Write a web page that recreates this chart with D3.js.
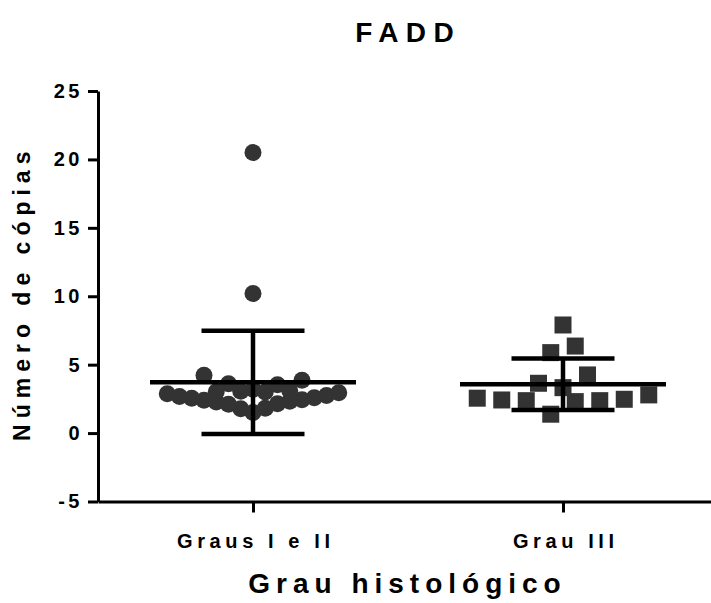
<!DOCTYPE html>
<html>
<head>
<meta charset="utf-8">
<script src="https://cdn.jsdelivr.net/npm/d3@7"></script>
<style>
  body { margin: 0; background: #fff; }
  svg { display: block; font-family: "Liberation Sans", Arial, sans-serif; font-weight: bold; }
</style>
</head>
<body>
<div id="chart"></div>
<script>
// data (column order as entered)
const groups = ['Graus I e II', 'Grau III'];
const grausIeII = [1.5, 1.78, 1.82, 2.1, 2.14, 2.28, 2.32, 2.4, 2.44, 2.54, 2.58, 2.68, 2.74, 2.88, 2.95,
  3.2, 3.06, 3.0, 3.6, 3.54, 3.02, 3.1, 4.22, 3.86, 10.2, 20.5];
const grauIII = [1.38, 2.3, 2.37, 2.37, 2.42, 2.47, 2.55, 2.79, 3.32, 3.64, 4.25, 5.88, 6.36, 7.9];
const yTicks = [-5, 0, 5, 10, 15, 20, 25];
const title = 'FADD';
const xTitle = 'Grau histológico';
const yTitle = 'Número de cópias';

const width = 711, height = 603;
const margin = {top: 91, right: -7, bottom: 101.5, left: 98};
const dark = '#333333';

const svg = d3.select('#chart').append('svg')
  .attr('width', width)
  .attr('height', height);

const x = d3.scalePoint()
  .domain(groups)
  .range([margin.left, width - margin.right])
  .padding(0.5);

const y = d3.scaleLinear()
  .domain([-5, 25])
  .range([height - margin.bottom, margin.top]);

// prism-like scatter layout: rows of one symbol height, points spread sideways
const spacing = 24.5, maxRow = 185, rowEdge = 2.97;
function swarm(values) {
  const binH = y.invert(0) - y.invert(spacing);
  const rows = d3.group(values, v => Math.floor((v - rowEdge) / binH));
  const out = [];
  for (const row of rows.values()) {
    const n = row.length;
    let s = spacing;
    while ((n - 1) * s > maxRow) s /= 2;
    row.forEach((v, i) => {
      const k = n % 2
        ? Math.ceil(i / 2) * (i % 2 ? -1 : 1)
        : (Math.floor(i / 2) + 0.5) * (i % 2 ? 1 : -1);
      out.push({v: v, dx: k * s});
    });
  }
  return out;
}

// axes
const yAxis = svg.append('g')
  .attr('transform', `translate(${margin.left},0)`)
  .call(d3.axisLeft(y).tickValues(yTicks).tickFormat(d => String(d))
    .tickSize(10).tickSizeOuter(0).tickPadding(5));

const xAxis = svg.append('g')
  .attr('transform', `translate(0,${y(-5)})`)
  .call(d3.axisBottom(x).tickSize(11).tickSizeOuter(0).tickPadding(21));

[yAxis, xAxis].forEach(g => {
  g.selectAll('path, line').attr('stroke', '#000').attr('stroke-width', 3);
  g.selectAll('text')
    .attr('fill', '#000')
    .style('font-size', '20px')
    .style('font-weight', 'bold')
    .style('font-family', '"Liberation Sans", Arial, sans-serif');
});
yAxis.selectAll('text').style('letter-spacing', '3.5px');
xAxis.selectAll('text').style('letter-spacing', '4.6px').attr('dx', '2.3px');

// points
const g1 = svg.append('g');
g1.selectAll('circle')
  .data(swarm(grausIeII))
  .join('circle')
  .attr('cx', d => x(groups[0]) + d.dx)
  .attr('cy', d => y(d.v))
  .attr('r', 8.5)
  .attr('fill', dark);

const g2 = svg.append('g');
g2.selectAll('path')
  .data(swarm(grauIII))
  .join('path')
  .attr('transform', d => `translate(${x(groups[1]) + d.dx},${y(d.v)})`)
  .attr('d', d3.symbol(d3.symbolSquare, 17 * 17))
  .attr('fill', dark);

// mean +/- SD
const stats = [grausIeII, grauIII].map((vals, i) => ({
  key: groups[i],
  mean: d3.mean(vals),
  sd: d3.deviation(vals)
}));

const bars = svg.append('g')
  .attr('stroke', '#000')
  .attr('stroke-width', 4.5)
  .selectAll('g')
  .data(stats)
  .join('g');

bars.append('line')
  .attr('x1', d => x(d.key)).attr('x2', d => x(d.key))
  .attr('y1', d => y(d.mean + d.sd)).attr('y2', d => y(d.mean - d.sd));
bars.append('line')
  .attr('x1', d => x(d.key) - 103).attr('x2', d => x(d.key) + 103)
  .attr('y1', d => y(d.mean)).attr('y2', d => y(d.mean));
bars.append('line')
  .attr('x1', d => x(d.key) - 51.5).attr('x2', d => x(d.key) + 51.5)
  .attr('y1', d => y(d.mean + d.sd)).attr('y2', d => y(d.mean + d.sd));
bars.append('line')
  .attr('x1', d => x(d.key) - 51.5).attr('x2', d => x(d.key) + 51.5)
  .attr('y1', d => y(d.mean - d.sd)).attr('y2', d => y(d.mean - d.sd));

// titles
const midX = (margin.left + width) / 2;
svg.append('text')
  .attr('x', midX).attr('y', 42)
  .attr('dx', 3.7)
  .attr('text-anchor', 'middle')
  .style('font-size', '28px')
  .style('letter-spacing', '7.4px')
  .text(title);

svg.append('text')
  .attr('x', midX).attr('y', 593)
  .attr('dx', 3)
  .attr('text-anchor', 'middle')
  .style('font-size', '28px')
  .style('letter-spacing', '6px')
  .text(xTitle);

svg.append('text')
  .attr('transform', `translate(30,${(y(-5) + y(25)) / 2}) rotate(-90)`)
  .attr('dx', 3)
  .attr('text-anchor', 'middle')
  .style('font-size', '23px')
  .style('letter-spacing', '6px')
  .text(yTitle);
</script>
</body>
</html>
